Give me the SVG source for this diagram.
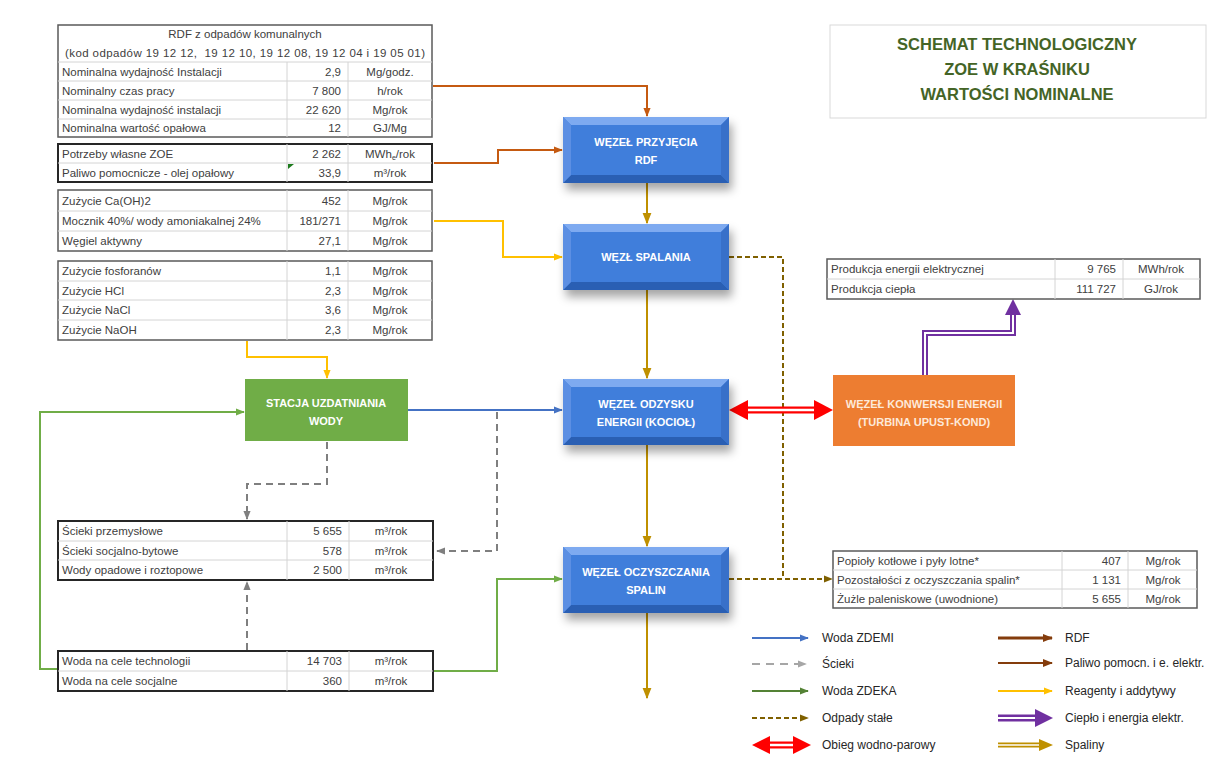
<svg xmlns="http://www.w3.org/2000/svg" width="1221" height="764" viewBox="0 0 1221 764">
<defs>
<style>
.t{font-family:"Liberation Sans",Arial,sans-serif;font-size:11.5px;fill:#404040}
.r{text-anchor:end}
.c{text-anchor:middle}
.ob{fill:#fff;stroke:#5a5a5a;stroke-width:1.5}
.od{fill:#fff;stroke:#262626;stroke-width:2}
.gl{stroke:#d4d4d4;stroke-width:1;fill:none}
.nt{font-family:"Liberation Sans",Arial,sans-serif;font-size:11px;font-weight:bold;fill:#fff;text-anchor:middle}
.lg{font-family:"Liberation Sans",Arial,sans-serif;font-size:12px;fill:#262626}
.ttl{font-family:"Liberation Sans",Arial,sans-serif;font-size:16.5px;font-weight:bold;fill:#446426;text-anchor:middle}
.ln{fill:none;stroke-width:2}
</style>
<filter id="sh" x="-20%" y="-20%" width="150%" height="170%"><feDropShadow dx="3" dy="7" stdDeviation="5" flood-color="#000" flood-opacity="0.35"/></filter>
<g id="bluebox">
<rect x="0" y="0" width="166" height="66" fill="#3f7edb"/>
<polygon points="0,0 166,0 158,8 8,8" fill="#7eaaf0"/>
<polygon points="0,66 166,66 158,58 8,58" fill="#2b5eb3"/>
<polygon points="0,0 8,8 8,58 0,66" fill="#5c8fe3"/>
<polygon points="166,0 158,8 158,58 166,66" fill="#3970c9"/>
</g>
<marker id="mBr" viewBox="0 0 10 10" refX="9" refY="5" markerWidth="9" markerHeight="9" markerUnits="userSpaceOnUse" orient="auto"><path d="M0,1 L10,5 L0,9z" fill="#c55a11"/></marker>
<marker id="mDBr" viewBox="0 0 10 10" refX="9" refY="5" markerWidth="10" markerHeight="10" markerUnits="userSpaceOnUse" orient="auto"><path d="M0,1 L10,5 L0,9z" fill="#843c0c"/></marker>
<marker id="mY" viewBox="0 0 10 10" refX="9" refY="5" markerWidth="9" markerHeight="9" markerUnits="userSpaceOnUse" orient="auto"><path d="M0,1 L10,5 L0,9z" fill="#ffc000"/></marker>
<marker id="mGo" viewBox="0 0 10 10" refX="9" refY="5" markerWidth="11" markerHeight="11" markerUnits="userSpaceOnUse" orient="auto"><path d="M0,1 L10,5 L0,9z" fill="#bf9000"/></marker>
<marker id="mBl" viewBox="0 0 10 10" refX="9" refY="5" markerWidth="9" markerHeight="9" markerUnits="userSpaceOnUse" orient="auto"><path d="M0,1 L10,5 L0,9z" fill="#4472c4"/></marker>
<marker id="mGr" viewBox="0 0 10 10" refX="9" refY="5" markerWidth="9" markerHeight="9" markerUnits="userSpaceOnUse" orient="auto"><path d="M0,1 L10,5 L0,9z" fill="#7f7f7f"/></marker>
<marker id="mLGr" viewBox="0 0 10 10" refX="9" refY="5" markerWidth="9" markerHeight="9" markerUnits="userSpaceOnUse" orient="auto"><path d="M0,1 L10,5 L0,9z" fill="#a6a6a6"/></marker>
<marker id="mGn" viewBox="0 0 10 10" refX="9" refY="5" markerWidth="9" markerHeight="9" markerUnits="userSpaceOnUse" orient="auto"><path d="M0,1 L10,5 L0,9z" fill="#70ad47"/></marker>
<marker id="mDGn" viewBox="0 0 10 10" refX="9" refY="5" markerWidth="9" markerHeight="9" markerUnits="userSpaceOnUse" orient="auto"><path d="M0,1 L10,5 L0,9z" fill="#548235"/></marker>
<marker id="mOl" viewBox="0 0 10 10" refX="9" refY="5" markerWidth="9" markerHeight="9" markerUnits="userSpaceOnUse" orient="auto"><path d="M0,1 L10,5 L0,9z" fill="#7f6000"/></marker>
</defs>
<rect x="0" y="0" width="1221" height="764" fill="#fff"/>

<g id="title">
<rect x="830" y="25" width="376" height="93" fill="#fff" stroke="#d9d9d9" stroke-width="1"/>
<text class="ttl" x="1017" y="50">SCHEMAT TECHNOLOGICZNY</text>
<text class="ttl" x="1017" y="75">ZOE W KRAŚNIKU</text>
<text class="ttl" x="1017" y="100">WARTOŚCI NOMINALNE</text>
</g>

<g id="connectors">
<path class="ln" d="M433,86 H647 V116" stroke="#c55a11" marker-end="url(#mBr)"/>
<path class="ln" d="M434,163 H498 V150 H562" stroke="#c55a11" marker-end="url(#mBr)"/>
<path class="ln" d="M434,221 H503 V257 H562" stroke="#ffc000" marker-end="url(#mY)"/>
<path class="ln" d="M247,341 V357 H327 V378" stroke="#ffc000" marker-end="url(#mY)"/>
<path class="ln" d="M647,183 V223" stroke="#bf9000" marker-end="url(#mGo)"/>
<path class="ln" d="M647,290 V378" stroke="#bf9000" marker-end="url(#mGo)"/>
<path class="ln" d="M647,445 V546" stroke="#bf9000" marker-end="url(#mGo)"/>
<path class="ln" d="M647,613 V698" stroke="#bf9000" marker-end="url(#mGo)"/>
<path class="ln" d="M408,410 H562" stroke="#4472c4" marker-end="url(#mBl)"/>
<path class="ln" d="M327,442 V484 H247 V519" stroke="#7f7f7f" stroke-width="2.5" stroke-dasharray="7 5" marker-end="url(#mGr)"/>
<path class="ln" d="M497,412 V551 H437" stroke="#7f7f7f" stroke-width="2.5" stroke-dasharray="7 5" marker-end="url(#mGr)"/>
<path class="ln" d="M247,650 V582" stroke="#7f7f7f" stroke-width="2.5" stroke-dasharray="7 5" marker-end="url(#mGr)"/>
<path class="ln" d="M58,669 H40 V412 H244" stroke="#70ad47" marker-end="url(#mGn)"/>
<path class="ln" d="M433,671 H497 V579 H562" stroke="#70ad47" marker-end="url(#mGn)"/>
<path class="ln" d="M729,257 H783 V579" stroke="#7f6000" stroke-dasharray="5 3"/>
<path class="ln" d="M729,579 H832" stroke="#7f6000" stroke-dasharray="5 3" marker-end="url(#mOl)"/>
<g id="steam">
<path d="M745,410 H817" stroke="#ff0000" stroke-width="7" fill="none"/>
<path d="M745,410 H817" stroke="#fff" stroke-width="2.5" fill="none"/>
<polygon points="729,410 748,400 748,420" fill="#ff0000"/>
<polygon points="833,410 814,400 814,420" fill="#ff0000"/>
</g>
<g id="heat">
<path d="M925,375 V333 H1013 V313" stroke="#7030a0" stroke-width="6" fill="none"/>
<path d="M925,375 V333 H1013 V313" stroke="#fff" stroke-width="2" fill="none"/>
<polygon points="1013,299 1005,315 1021,315" fill="#7030a0"/>
</g>
</g>

<g id="t-rdf">
<rect class="ob" x="58" y="25" width="374" height="112"/>
<path class="gl" d="M58,62 H432 M58,81 H432 M58,100 H432 M58,119 H432 M287,62 V137 M348,62 V137"/>
<text class="t c" x="245" y="38">RDF z odpadów komunalnych</text>
<text class="t c" x="245" y="57" xml:space="preserve" textLength="360" lengthAdjust="spacing">(kod odpadów 19 12 12,  19 12 10, 19 12 08, 19 12 04 i 19 05 01)</text>
<text class="t" x="62" y="76">Nominalna wydajność Instalacji</text><text class="t r" x="341" y="76">2,9</text><text class="t c" x="390" y="76">Mg/godz.</text>
<text class="t" x="62" y="95">Nominalny czas pracy</text><text class="t r" x="341" y="95">7 800</text><text class="t c" x="390" y="95">h/rok</text>
<text class="t" x="62" y="114">Nominalna wydajność instalacji</text><text class="t r" x="341" y="114">22 620</text><text class="t c" x="390" y="114">Mg/rok</text>
<text class="t" x="62" y="132">Nominalna wartość opałowa</text><text class="t r" x="341" y="132">12</text><text class="t c" x="390" y="132">GJ/Mg</text>
</g>

<g id="t-potrzeby">
<rect class="od" x="58" y="144" width="374" height="38"/>
<path class="gl" d="M58,163 H432 M287,144 V182 M348,144 V182"/>
<polygon points="288,164 294,164 288,169" fill="#1e7b1e"/>
<text class="t" x="62" y="158">Potrzeby własne ZOE</text><text class="t r" x="341" y="158">2 262</text><text class="t c" x="390" y="158">MWh<tspan font-size="7" dy="2">e</tspan><tspan dy="-2">/rok</tspan></text>
<text class="t" x="62" y="177">Paliwo pomocnicze - olej opałowy</text><text class="t r" x="341" y="177">33,9</text><text class="t c" x="390" y="177">m³/rok</text>
</g>

<g id="t-reagenty">
<rect class="ob" x="58" y="190" width="374" height="61"/>
<path class="gl" d="M58,211 H432 M58,231 H432 M287,190 V251 M348,190 V251"/>
<text class="t" x="62" y="205">Zużycie Ca(OH)2</text><text class="t r" x="341" y="205">452</text><text class="t c" x="390" y="205">Mg/rok</text>
<text class="t" x="62" y="225">Mocznik 40%/ wody amoniakalnej 24%</text><text class="t r" x="341" y="225">181/271</text><text class="t c" x="390" y="225">Mg/rok</text>
<text class="t" x="62" y="245">Węgiel aktywny</text><text class="t r" x="341" y="245">27,1</text><text class="t c" x="390" y="245">Mg/rok</text>
</g>

<g id="t-chemia">
<rect class="ob" x="58" y="261" width="374" height="79"/>
<path class="gl" d="M58,281 H432 M58,300 H432 M58,320 H432 M287,261 V340 M348,261 V340"/>
<text class="t" x="62" y="275">Zużycie fosforanów</text><text class="t r" x="341" y="275">1,1</text><text class="t c" x="390" y="275">Mg/rok</text>
<text class="t" x="62" y="295">Zużycie HCl</text><text class="t r" x="341" y="295">2,3</text><text class="t c" x="390" y="295">Mg/rok</text>
<text class="t" x="62" y="314">Zużycie NaCl</text><text class="t r" x="341" y="314">3,6</text><text class="t c" x="390" y="314">Mg/rok</text>
<text class="t" x="62" y="334">Zużycie NaOH</text><text class="t r" x="341" y="334">2,3</text><text class="t c" x="390" y="334">Mg/rok</text>
</g>

<g id="t-scieki">
<rect class="od" x="58" y="521" width="375" height="59"/>
<path class="gl" d="M58,541 H433 M58,560 H433 M287,521 V580 M349,521 V580"/>
<text class="t" x="62" y="535">Ścieki przemysłowe</text><text class="t r" x="342" y="535">5 655</text><text class="t c" x="391" y="535">m³/rok</text>
<text class="t" x="62" y="555">Ścieki socjalno-bytowe</text><text class="t r" x="342" y="555">578</text><text class="t c" x="391" y="555">m³/rok</text>
<text class="t" x="62" y="574">Wody opadowe i roztopowe</text><text class="t r" x="342" y="574">2 500</text><text class="t c" x="391" y="574">m³/rok</text>
</g>

<g id="t-woda">
<rect class="od" x="58" y="651" width="375" height="40"/>
<path class="gl" d="M58,671 H433 M287,651 V691 M349,651 V691"/>
<text class="t" x="62" y="665">Woda na cele technologii</text><text class="t r" x="342" y="665">14 703</text><text class="t c" x="391" y="665">m³/rok</text>
<text class="t" x="62" y="685">Woda na cele socjalne</text><text class="t r" x="342" y="685">360</text><text class="t c" x="391" y="685">m³/rok</text>
</g>

<g id="t-produkcja">
<rect class="ob" x="827" y="259" width="373" height="40"/>
<path class="gl" d="M827,279 H1200 M1055,259 V299 M1123,259 V299"/>
<text class="t" x="831" y="273">Produkcja energii elektrycznej</text><text class="t r" x="1116" y="273">9 765</text><text class="t c" x="1161" y="273">MWh/rok</text>
<text class="t" x="831" y="293">Produkcja ciepła</text><text class="t r" x="1116" y="293">111 727</text><text class="t c" x="1161" y="293">GJ/rok</text>
</g>

<g id="t-odpady">
<rect class="ob" x="833" y="551" width="364" height="57"/>
<path class="gl" d="M833,570 H1197 M833,589 H1197 M1062,551 V608 M1128,551 V608"/>
<text class="t" x="837" y="565">Popioły kotłowe i pyły lotne*</text><text class="t r" x="1121" y="565">407</text><text class="t c" x="1163" y="565">Mg/rok</text>
<text class="t" x="837" y="584">Pozostałości z oczyszczania spalin*</text><text class="t r" x="1121" y="584">1 131</text><text class="t c" x="1163" y="584">Mg/rok</text>
<text class="t" x="837" y="603">Żużle paleniskowe (uwodnione)</text><text class="t r" x="1121" y="603">5 655</text><text class="t c" x="1163" y="603">Mg/rok</text>
</g>

<g id="n-przyjecia">
<use href="#bluebox" x="563" y="117" filter="url(#sh)"/>
<text class="nt" x="646" y="146">WĘZEŁ PRZYJĘCIA</text>
<text class="nt" x="646" y="164">RDF</text>
</g>
<g id="n-spalania">
<use href="#bluebox" x="563" y="224" filter="url(#sh)"/>
<text class="nt" x="646" y="261" font-weight="normal">WĘZŁ SPALANIA</text>
</g>
<g id="n-odzysku">
<use href="#bluebox" x="563" y="379" filter="url(#sh)"/>
<text class="nt" x="646" y="408">WĘZEŁ ODZYSKU</text>
<text class="nt" x="646" y="426">ENERGII (KOCIOŁ)</text>
</g>
<g id="n-oczyszczania">
<use href="#bluebox" x="563" y="547" filter="url(#sh)"/>
<text class="nt" x="646" y="576">WĘZEŁ OCZYSZCZANIA</text>
<text class="nt" x="646" y="594">SPALIN</text>
</g>
<g id="n-stacja">
<rect x="245" y="379" width="163" height="62" fill="#70ad47"/>
<text class="nt" x="326" y="407">STACJA UZDATNIANIA</text>
<text class="nt" x="326" y="425">WODY</text>
</g>
<g id="n-konwersja">
<rect x="833" y="375" width="182" height="71" fill="#ed7d31"/>
<text class="nt" x="924" y="408" style="fill:#fde9d9">WĘZEŁ KONWERSJI ENERGII</text>
<text class="nt" x="924" y="426" style="fill:#fde9d9">(TURBINA UPUST-KOND)</text>
</g>

<g id="legend">
<path class="ln" d="M752,638 H808" stroke="#4472c4" marker-end="url(#mBl)"/>
<text class="lg" x="822" y="642">Woda ZDEMI</text>
<path class="ln" d="M752,664 H806" stroke="#a6a6a6" stroke-dasharray="8 6" marker-end="url(#mLGr)"/>
<text class="lg" x="822" y="668">Ścieki</text>
<path class="ln" d="M752,691 H808" stroke="#548235" marker-end="url(#mDGn)"/>
<text class="lg" x="822" y="695">Woda ZDEKA</text>
<path class="ln" d="M752,718 H808" stroke="#7f6000" stroke-dasharray="5 3" marker-end="url(#mOl)"/>
<text class="lg" x="822" y="722">Odpady stałe</text>
<path d="M766,745 H797" stroke="#ff0000" stroke-width="7" fill="none"/>
<path d="M766,745 H797" stroke="#fff" stroke-width="2.5" fill="none"/>
<polygon points="752,745 770,736 770,754" fill="#ff0000"/>
<polygon points="811,745 793,736 793,754" fill="#ff0000"/>
<text class="lg" x="822" y="749">Obieg wodno-parowy</text>

<path d="M998,638 H1052" stroke="#843c0c" stroke-width="3" fill="none" marker-end="url(#mDBr)"/>
<text class="lg" x="1065" y="642">RDF</text>
<path class="ln" d="M998,663 H1052" stroke="#843c0c" marker-end="url(#mDBr)"/>
<text class="lg" x="1065" y="667">Paliwo pomocn. i e. elektr.</text>
<path class="ln" d="M998,691 H1052" stroke="#ffc000" marker-end="url(#mY)"/>
<text class="lg" x="1065" y="695">Reagenty i addytywy</text>
<path d="M998,718 H1037" stroke="#7030a0" stroke-width="7" fill="none"/>
<path d="M998,718 H1037" stroke="#fff" stroke-width="2" fill="none"/>
<polygon points="1053,718 1035,709 1035,727" fill="#7030a0"/>
<text class="lg" x="1065" y="722">Ciepło i energia elektr.</text>
<path d="M998,745 H1041" stroke="#bf9000" stroke-width="5" fill="none"/>
<path d="M998,745 H1041" stroke="#fff" stroke-width="1.5" fill="none"/>
<polygon points="1053,745 1039,739 1039,751" fill="#bf9000"/>
<text class="lg" x="1065" y="749">Spaliny</text>
</g>
</svg>
